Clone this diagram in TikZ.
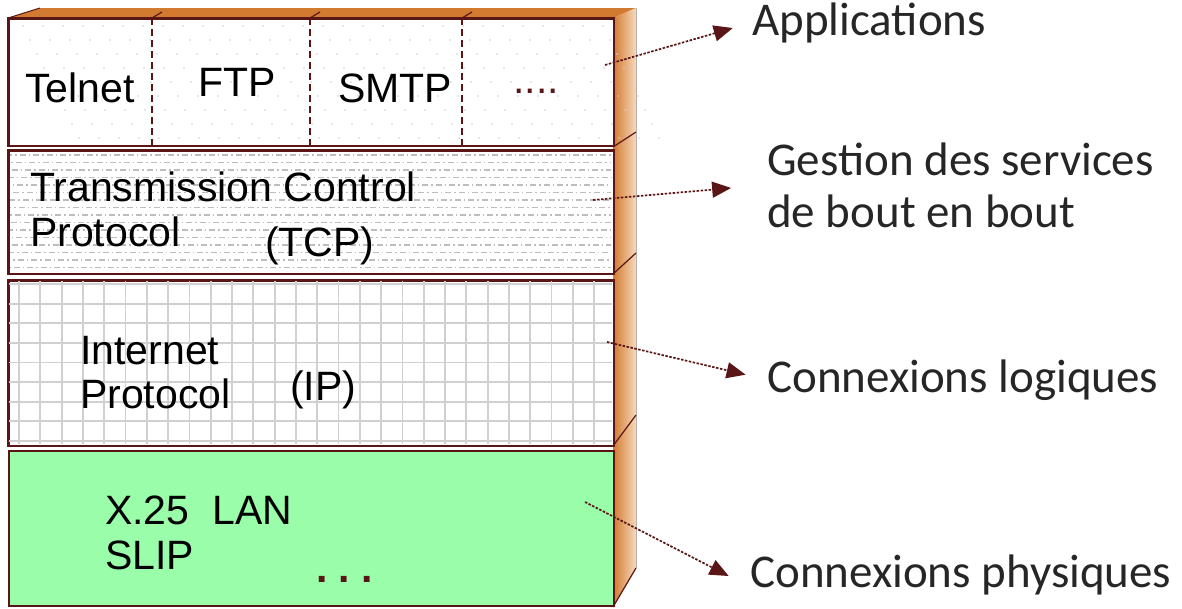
\documentclass[tikz,border=0pt]{standalone}
\usepackage{fontspec}
\setmainfont{Liberation Sans}
\newfontfamily\rolefont{Carlito}
\usetikzlibrary{arrows.meta, positioning, calc}
\definecolor{edgecol}{HTML}{5A1616}
\definecolor{physcol}{HTML}{99FDAA}
\definecolor{sidedark}{HTML}{D27A30}
\definecolor{sidelight}{HTML}{F7D9BC}
\definecolor{gridcol}{HTML}{D0D0D0}
\definecolor{brickcol}{HTML}{BDBDBD}
\definecolor{dotcol}{HTML}{D0D0D0}
\definecolor{rolecol}{HTML}{262626}

\begin{document}
\begin{tikzpicture}[
    x=1pt, y=-1pt,
    >={Triangle[length=19pt, width=16pt]},
    layer/.style={
        draw=edgecol, line width=1.6pt, minimum width=605pt,
        inner sep=0pt, anchor=north west
    },
    proto/.style={
        font=\fontsize{41}{44}\selectfont, anchor=base west, inner sep=0pt
    },
    role/.style={
        font=\rolefont\fontsize{47}{52}\selectfont, text=rolecol,
        anchor=base west, align=left, inner sep=0pt
    },
    link/.style={
        ->, edgecol, line width=1.7pt, dash pattern=on 2.5pt off 1.5pt
    },
]
\useasboundingbox (0,0) rectangle (1182,608);

% ── Box faces (top, right side) ──
\fill[sidedark] (8,18) -- (40,8) -- (636,8) -- (613,18) -- cycle;
\draw[edgecol, line width=1pt] (8,18) -- (40,8);
\foreach \vx in {152,310,462}
    \draw[edgecol, line width=1.2pt] (\vx,18) -- (\vx+10,12);
\shade[left color=sidedark, right color=sidelight]
    (613,18) -- (636,8) -- (636,568) -- (613,607) -- cycle;
\draw[gray!60, line width=0.8pt] (636,8) -- (636,568);
\draw[edgecol, line width=1.2pt] (613,607) -- (636,568);
\draw[edgecol, line width=1.2pt] (613,147) -- (636,132);
\draw[edgecol, line width=1.2pt] (613,274) -- (636,253);
\draw[edgecol, line width=1.2pt] (613,446) -- (636,415);

% ── Layers ──
\node[layer, fill=white, minimum height=127pt] (app) at (8,18) {};
\node[layer, fill=white, minimum height=123pt] (tcp) at (8,150) {};
\node[layer, fill=white, minimum height=165pt] (ip)  at (8,280) {};
\node[layer, fill=physcol, minimum height=155pt] (phy) at (8,450) {};

% ── Fill patterns ──
\foreach \dy [count=\j] in {26,40,...,140}
    \foreach \dx in {16,36,...,600}
        \fill[dotcol] (\dx+\j*7,\dy) circle (0.9);
\foreach \by [count=\i] in {155,162.5,...,270}
    \draw[brickcol, line width=1.3pt, dash pattern=on 6pt off 3pt on 1.5pt off 3pt,
          dash phase=\i*4pt] (10,\by) -- (611,\by);
\foreach \gx in {19,40.3,...,610}
    \draw[gridcol, line width=1.8pt] (\gx,281) -- (\gx,444);
\foreach \gy in {284,303.6,...,443}
    \draw[gridcol, line width=1.8pt] (9,\gy) -- (612,\gy);
\draw[edgecol, line width=1.6pt] (app.north west) rectangle (app.south east);
\draw[edgecol, line width=1.6pt] (tcp.north west) rectangle (tcp.south east);
\draw[edgecol, line width=1.6pt] (ip.north west) rectangle (ip.south east);

% ── Application dividers ──
\foreach \vx in {152,310,462}
    \draw[edgecol, line width=1.6pt, dash pattern=on 7pt off 4pt] (\vx,18) -- (\vx,145);

% ── Protocol names ──
\node[proto] (telnet) at (25,102)  {Telnet};
\node[proto] (ftp)    at (198,96)  {FTP};
\node[proto] (smtp)   at (338,102) {SMTP};
\node[proto, text=edgecol] (more) at (513,93) {....};

\node[proto] (tcpa) at (30,201)  {Transmission Control};
\node[proto] (tcpb) at (30,246)  {Protocol};
\node[proto] (tcpc) at (265,256) {(TCP)};

\node[proto] (ipa) at (80,364)  {Internet};
\node[proto] (ipb) at (80,408)  {Protocol};
\node[proto] (ipc) at (290,400) {(IP)};

\node[proto] (phya) at (105,524) {X.25\ \ LAN};
\node[proto] (phyb) at (105,569) {SLIP};
\node[proto, text=edgecol] (phyc) at (316,582) {\textbf{.\ .\ .}};

% ── Roles (right side) ──
\node[role] (apps)  at (752,35)  {Applications};
\node[role] (serv)  at (767,227) {Gestion des services\\de bout en bout};
\node[role] (logic) at (767,392) {Connexions logiques};
\node[role] (phys)  at (750,587) {Connexions physiques};

% ── Pointers ──
\coordinate (appsrc)   at (605,65);
\coordinate (tcpsrc)   at (593,200);
\coordinate (ipsrc)    at (607,342);
\coordinate (physrc)   at (585,502);
\draw[link, shorten >=20pt] (appsrc) -- (apps.west);
\draw[link, shorten >=36pt] (tcpsrc) -- (serv.west);
\draw[link, shorten >=22pt] (ipsrc)  -- (logic.west);
\draw[link, shorten >=24pt] (physrc) -- (phys.base west);

\end{tikzpicture}
\end{document}
